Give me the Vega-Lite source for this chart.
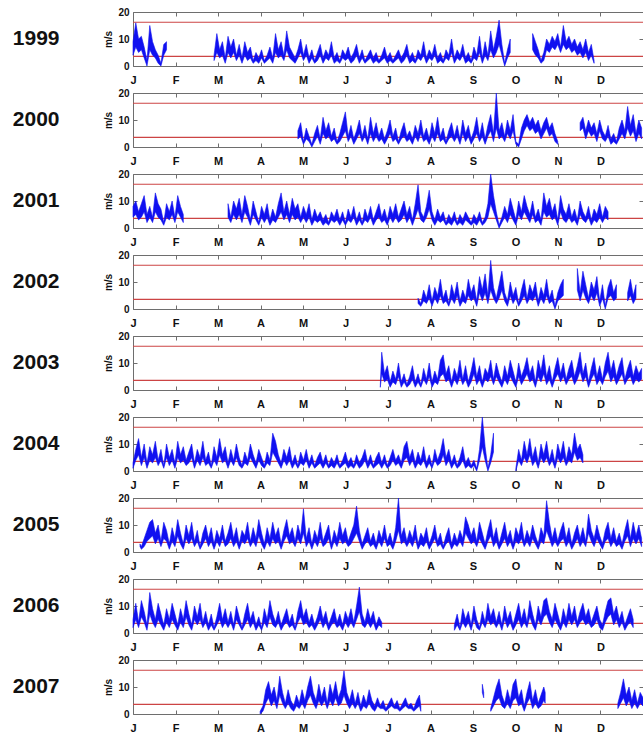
{
"$schema":"https://vega.github.io/schema/vega-lite/v6.json",
"padding":{"left":12,"top":6,"right":0,"bottom":0},
"background":"white",
"bounds":"flush",
"spacing":27,
"config":{
 "font":"Liberation Sans",
 "view":{"stroke":"#6e6e6e","strokeWidth":1},
 "axis":{"domain":false,"grid":false,"tickColor":"#6e6e6e","tickSize":-4,"labelFont":"Liberation Sans","labelFontWeight":"bold","labelColor":"#111111","titleFont":"Liberation Sans","titleFontWeight":"bold","titleColor":"#111111"},
 "title":{"orient":"left","angle":0,"align":"right","baseline":"middle","anchor":"middle","fontSize":21,"fontWeight":"bold","font":"Liberation Sans","color":"#111111","offset":21,"dy":-11}
},
"datasets":{
"a1999":[{"d":0,"l":4,"h":9,"s":1},{"d":2,"l":7,"h":16,"s":1},{"d":4,"l":5,"h":10,"s":1},{"d":6,"l":6,"h":11,"s":1},{"d":8,"l":3,"h":7,"s":1},{"d":10,"l":0,"h":2,"s":1},{"d":12,"l":6,"h":15,"s":1},{"d":14,"l":4,"h":9,"s":1},{"d":16,"l":3,"h":6,"s":1},{"d":18,"l":1,"h":4,"s":1},{"d":20,"l":0,"h":1,"s":1},{"d":22,"l":4,"h":8,"s":1},{"d":24,"l":6,"h":9,"s":1},
{"d":58,"l":2,"h":4,"s":2},{"d":60,"l":5,"h":12,"s":2},{"d":62,"l":3,"h":6,"s":2},{"d":64,"l":4,"h":9,"s":2},{"d":66,"l":1,"h":3,"s":2},{"d":68,"l":5,"h":11,"s":2},{"d":70,"l":3,"h":7,"s":2},{"d":72,"l":5,"h":10,"s":2},{"d":74,"l":2,"h":4,"s":2},{"d":76,"l":4,"h":8,"s":2},{"d":78,"l":1,"h":3,"s":2},{"d":80,"l":4,"h":9,"s":2},{"d":82,"l":2,"h":5,"s":2},{"d":84,"l":3,"h":7,"s":2},{"d":86,"l":1,"h":2,"s":2},{"d":88,"l":2,"h":5,"s":2},{"d":90,"l":1,"h":3,"s":2},{"d":92,"l":3,"h":6,"s":2},{"d":94,"l":1,"h":2,"s":2},{"d":96,"l":2,"h":4,"s":2},{"d":98,"l":3,"h":7,"s":2},{"d":100,"l":1,"h":3,"s":2},{"d":102,"l":5,"h":12,"s":2},{"d":104,"l":3,"h":6,"s":2},{"d":106,"l":4,"h":9,"s":2},{"d":108,"l":2,"h":4,"s":2},{"d":110,"l":6,"h":13,"s":2},{"d":112,"l":3,"h":7,"s":2},{"d":114,"l":2,"h":5,"s":2},{"d":116,"l":1,"h":3,"s":2},{"d":118,"l":3,"h":6,"s":2},{"d":120,"l":5,"h":10,"s":2},{"d":122,"l":2,"h":4,"s":2},{"d":124,"l":4,"h":8,"s":2},{"d":126,"l":1,"h":3,"s":2},{"d":128,"l":3,"h":6,"s":2},{"d":130,"l":1,"h":2,"s":2},{"d":132,"l":2,"h":5,"s":2},{"d":134,"l":4,"h":8,"s":2},{"d":136,"l":1,"h":3,"s":2},{"d":138,"l":3,"h":6,"s":2},{"d":140,"l":2,"h":4,"s":2},{"d":142,"l":4,"h":9,"s":2},{"d":144,"l":1,"h":3,"s":2},{"d":146,"l":2,"h":5,"s":2},{"d":148,"l":1,"h":2,"s":2},{"d":150,"l":3,"h":6,"s":2},{"d":152,"l":2,"h":4,"s":2},{"d":154,"l":3,"h":7,"s":2},{"d":156,"l":1,"h":3,"s":2},{"d":158,"l":2,"h":5,"s":2},{"d":160,"l":4,"h":8,"s":2},{"d":162,"l":1,"h":3,"s":2},{"d":164,"l":3,"h":6,"s":2},{"d":166,"l":1,"h":2,"s":2},{"d":168,"l":2,"h":4,"s":2},{"d":170,"l":3,"h":6,"s":2},{"d":172,"l":1,"h":3,"s":2},{"d":174,"l":2,"h":5,"s":2},{"d":176,"l":1,"h":2,"s":2},{"d":178,"l":2,"h":4,"s":2},{"d":180,"l":3,"h":7,"s":2},{"d":182,"l":1,"h":3,"s":2},{"d":184,"l":2,"h":5,"s":2},{"d":186,"l":1,"h":2,"s":2},{"d":188,"l":2,"h":4,"s":2},{"d":190,"l":3,"h":6,"s":2},{"d":192,"l":1,"h":3,"s":2},{"d":194,"l":2,"h":5,"s":2},{"d":196,"l":4,"h":8,"s":2},{"d":198,"l":1,"h":3,"s":2},{"d":200,"l":2,"h":5,"s":2},{"d":202,"l":1,"h":2,"s":2},{"d":204,"l":3,"h":6,"s":2},{"d":206,"l":2,"h":4,"s":2},{"d":208,"l":4,"h":9,"s":2},{"d":210,"l":1,"h":3,"s":2},{"d":212,"l":3,"h":6,"s":2},{"d":214,"l":2,"h":4,"s":2},{"d":216,"l":4,"h":8,"s":2},{"d":218,"l":1,"h":3,"s":2},{"d":220,"l":2,"h":5,"s":2},{"d":222,"l":1,"h":2,"s":2},{"d":224,"l":3,"h":6,"s":2},{"d":226,"l":2,"h":4,"s":2},{"d":228,"l":5,"h":10,"s":2},{"d":230,"l":1,"h":3,"s":2},{"d":232,"l":3,"h":6,"s":2},{"d":234,"l":2,"h":4,"s":2},{"d":236,"l":4,"h":8,"s":2},{"d":238,"l":1,"h":3,"s":2},{"d":240,"l":2,"h":5,"s":2},{"d":242,"l":1,"h":2,"s":2},{"d":244,"l":3,"h":7,"s":2},{"d":246,"l":2,"h":4,"s":2},{"d":248,"l":5,"h":11,"s":2},{"d":250,"l":1,"h":3,"s":2},{"d":252,"l":4,"h":9,"s":2},{"d":254,"l":2,"h":4,"s":2},{"d":256,"l":6,"h":13,"s":2},{"d":258,"l":3,"h":6,"s":2},{"d":260,"l":5,"h":11,"s":2},{"d":262,"l":8,"h":17,"s":2},{"d":264,"l":4,"h":8,"s":2},{"d":266,"l":0,"h":1,"s":2},{"d":268,"l":3,"h":6,"s":2},{"d":270,"l":5,"h":10,"s":2},
{"d":286,"l":6,"h":12,"s":3},{"d":288,"l":4,"h":9,"s":3},{"d":290,"l":3,"h":6,"s":3},{"d":292,"l":1,"h":2,"s":3},{"d":294,"l":2,"h":5,"s":3},{"d":296,"l":6,"h":10,"s":3},{"d":298,"l":5,"h":8,"s":3},{"d":300,"l":7,"h":11,"s":3},{"d":302,"l":6,"h":9,"s":3},{"d":304,"l":8,"h":12,"s":3},{"d":306,"l":5,"h":7,"s":3},{"d":308,"l":8,"h":15,"s":3},{"d":310,"l":6,"h":9,"s":3},{"d":312,"l":7,"h":11,"s":3},{"d":314,"l":5,"h":8,"s":3},{"d":316,"l":6,"h":10,"s":3},{"d":318,"l":4,"h":7,"s":3},{"d":320,"l":5,"h":9,"s":3},{"d":322,"l":3,"h":6,"s":3},{"d":324,"l":5,"h":10,"s":3},{"d":326,"l":2,"h":5,"s":3},{"d":328,"l":4,"h":8,"s":3},{"d":330,"l":1,"h":2,"s":3}],
"a2000":[{"d":118,"l":3,"h":6,"s":1},{"d":120,"l":4,"h":9,"s":1},{"d":122,"l":1,"h":2,"s":1},{"d":124,"l":3,"h":7,"s":1},{"d":126,"l":2,"h":4,"s":1},{"d":128,"l":0,"h":1,"s":1},{"d":130,"l":2,"h":5,"s":1},{"d":132,"l":4,"h":8,"s":1},{"d":134,"l":1,"h":3,"s":1},{"d":136,"l":5,"h":11,"s":1},{"d":138,"l":3,"h":6,"s":1},{"d":140,"l":4,"h":9,"s":1},{"d":142,"l":2,"h":4,"s":1},{"d":144,"l":3,"h":7,"s":1},{"d":146,"l":1,"h":2,"s":1},{"d":148,"l":2,"h":5,"s":1},{"d":150,"l":4,"h":9,"s":1},{"d":152,"l":6,"h":13,"s":1},{"d":154,"l":2,"h":4,"s":1},{"d":156,"l":4,"h":8,"s":1},{"d":158,"l":1,"h":3,"s":1},{"d":160,"l":3,"h":6,"s":1},{"d":162,"l":5,"h":10,"s":1},{"d":164,"l":2,"h":4,"s":1},{"d":166,"l":4,"h":8,"s":1},{"d":168,"l":1,"h":3,"s":1},{"d":170,"l":5,"h":11,"s":1},{"d":172,"l":2,"h":5,"s":1},{"d":174,"l":4,"h":9,"s":1},{"d":176,"l":2,"h":4,"s":1},{"d":178,"l":3,"h":7,"s":1},{"d":180,"l":1,"h":3,"s":1},{"d":182,"l":3,"h":6,"s":1},{"d":184,"l":5,"h":10,"s":1},{"d":186,"l":2,"h":4,"s":1},{"d":188,"l":3,"h":7,"s":1},{"d":190,"l":1,"h":2,"s":1},{"d":192,"l":3,"h":6,"s":1},{"d":194,"l":4,"h":9,"s":1},{"d":196,"l":2,"h":4,"s":1},{"d":198,"l":3,"h":6,"s":1},{"d":200,"l":1,"h":3,"s":1},{"d":202,"l":4,"h":8,"s":1},{"d":204,"l":2,"h":5,"s":1},{"d":206,"l":5,"h":10,"s":1},{"d":208,"l":2,"h":4,"s":1},{"d":210,"l":3,"h":7,"s":1},{"d":212,"l":1,"h":3,"s":1},{"d":214,"l":4,"h":9,"s":1},{"d":216,"l":2,"h":5,"s":1},{"d":218,"l":5,"h":11,"s":1},{"d":220,"l":2,"h":4,"s":1},{"d":222,"l":3,"h":7,"s":1},{"d":224,"l":1,"h":2,"s":1},{"d":226,"l":3,"h":6,"s":1},{"d":228,"l":4,"h":9,"s":1},{"d":230,"l":2,"h":4,"s":1},{"d":232,"l":4,"h":8,"s":1},{"d":234,"l":1,"h":3,"s":1},{"d":236,"l":5,"h":10,"s":1},{"d":238,"l":2,"h":5,"s":1},{"d":240,"l":4,"h":8,"s":1},{"d":242,"l":1,"h":3,"s":1},{"d":244,"l":3,"h":6,"s":1},{"d":246,"l":5,"h":11,"s":1},{"d":248,"l":2,"h":4,"s":1},{"d":250,"l":4,"h":9,"s":1},{"d":252,"l":1,"h":3,"s":1},{"d":254,"l":4,"h":8,"s":1},{"d":256,"l":6,"h":12,"s":1},{"d":258,"l":2,"h":5,"s":1},{"d":260,"l":7,"h":20,"s":1},{"d":262,"l":3,"h":6,"s":1},{"d":264,"l":4,"h":9,"s":1},{"d":266,"l":2,"h":4,"s":1},{"d":268,"l":5,"h":10,"s":1},{"d":270,"l":3,"h":6,"s":1},{"d":272,"l":6,"h":12,"s":1},{"d":274,"l":1,"h":2,"s":1},{"d":276,"l":0,"h":1,"s":1},{"d":278,"l":3,"h":7,"s":1},{"d":280,"l":6,"h":10,"s":1},{"d":282,"l":8,"h":12,"s":1},{"d":284,"l":6,"h":9,"s":1},{"d":286,"l":7,"h":11,"s":1},{"d":288,"l":5,"h":8,"s":1},{"d":290,"l":6,"h":10,"s":1},{"d":292,"l":3,"h":6,"s":1},{"d":294,"l":5,"h":9,"s":1},{"d":296,"l":7,"h":11,"s":1},{"d":298,"l":4,"h":7,"s":1},{"d":300,"l":5,"h":9,"s":1},{"d":302,"l":2,"h":5,"s":1},{"d":304,"l":1,"h":2,"s":1},
{"d":320,"l":6,"h":9,"s":2},{"d":322,"l":7,"h":11,"s":2},{"d":324,"l":3,"h":6,"s":2},{"d":326,"l":6,"h":10,"s":2},{"d":328,"l":4,"h":7,"s":2},{"d":330,"l":5,"h":9,"s":2},{"d":332,"l":2,"h":5,"s":2},{"d":334,"l":6,"h":10,"s":2},{"d":336,"l":3,"h":6,"s":2},{"d":338,"l":2,"h":4,"s":2},{"d":340,"l":4,"h":8,"s":2},{"d":342,"l":1,"h":3,"s":2},{"d":344,"l":2,"h":5,"s":2},{"d":346,"l":1,"h":2,"s":2},{"d":348,"l":3,"h":7,"s":2},{"d":350,"l":5,"h":10,"s":2},{"d":352,"l":3,"h":6,"s":2},{"d":354,"l":7,"h":15,"s":2},{"d":356,"l":4,"h":8,"s":2},{"d":358,"l":6,"h":12,"s":2},{"d":360,"l":2,"h":5,"s":2},{"d":362,"l":5,"h":10,"s":2},{"d":364,"l":3,"h":7,"s":2}],
"a2001":[{"d":0,"l":4,"h":8,"s":1},{"d":2,"l":5,"h":10,"s":1},{"d":4,"l":3,"h":6,"s":1},{"d":6,"l":4,"h":9,"s":1},{"d":8,"l":6,"h":12,"s":1},{"d":10,"l":2,"h":5,"s":1},{"d":12,"l":4,"h":8,"s":1},{"d":14,"l":2,"h":4,"s":1},{"d":16,"l":6,"h":13,"s":1},{"d":18,"l":4,"h":9,"s":1},{"d":20,"l":3,"h":7,"s":1},{"d":22,"l":1,"h":2,"s":1},{"d":24,"l":4,"h":9,"s":1},{"d":26,"l":3,"h":6,"s":1},{"d":28,"l":5,"h":10,"s":1},{"d":30,"l":2,"h":4,"s":1},{"d":32,"l":6,"h":12,"s":1},{"d":34,"l":4,"h":8,"s":1},{"d":36,"l":2,"h":5,"s":1},
{"d":68,"l":4,"h":9,"s":2},{"d":70,"l":2,"h":4,"s":2},{"d":72,"l":5,"h":10,"s":2},{"d":74,"l":3,"h":7,"s":2},{"d":76,"l":5,"h":11,"s":2},{"d":78,"l":2,"h":5,"s":2},{"d":80,"l":6,"h":12,"s":2},{"d":82,"l":4,"h":8,"s":2},{"d":84,"l":1,"h":3,"s":2},{"d":86,"l":5,"h":10,"s":2},{"d":88,"l":3,"h":6,"s":2},{"d":90,"l":1,"h":2,"s":2},{"d":92,"l":4,"h":8,"s":2},{"d":94,"l":2,"h":5,"s":2},{"d":96,"l":4,"h":9,"s":2},{"d":98,"l":1,"h":3,"s":2},{"d":100,"l":3,"h":7,"s":2},{"d":102,"l":2,"h":4,"s":2},{"d":104,"l":4,"h":9,"s":2},{"d":106,"l":6,"h":13,"s":2},{"d":108,"l":3,"h":6,"s":2},{"d":110,"l":5,"h":10,"s":2},{"d":112,"l":2,"h":5,"s":2},{"d":114,"l":5,"h":11,"s":2},{"d":116,"l":3,"h":7,"s":2},{"d":118,"l":4,"h":9,"s":2},{"d":120,"l":2,"h":4,"s":2},{"d":122,"l":4,"h":8,"s":2},{"d":124,"l":2,"h":5,"s":2},{"d":126,"l":4,"h":9,"s":2},{"d":128,"l":1,"h":3,"s":2},{"d":130,"l":3,"h":7,"s":2},{"d":132,"l":2,"h":4,"s":2},{"d":134,"l":3,"h":6,"s":2},{"d":136,"l":1,"h":3,"s":2},{"d":138,"l":2,"h":5,"s":2},{"d":140,"l":1,"h":2,"s":2},{"d":142,"l":3,"h":6,"s":2},{"d":144,"l":2,"h":4,"s":2},{"d":146,"l":3,"h":7,"s":2},{"d":148,"l":1,"h":3,"s":2},{"d":150,"l":3,"h":6,"s":2},{"d":152,"l":1,"h":2,"s":2},{"d":154,"l":3,"h":7,"s":2},{"d":156,"l":2,"h":4,"s":2},{"d":158,"l":4,"h":8,"s":2},{"d":160,"l":1,"h":3,"s":2},{"d":162,"l":3,"h":6,"s":2},{"d":164,"l":1,"h":2,"s":2},{"d":166,"l":3,"h":7,"s":2},{"d":168,"l":2,"h":4,"s":2},{"d":170,"l":4,"h":8,"s":2},{"d":172,"l":1,"h":3,"s":2},{"d":174,"l":3,"h":6,"s":2},{"d":176,"l":4,"h":9,"s":2},{"d":178,"l":2,"h":4,"s":2},{"d":180,"l":3,"h":7,"s":2},{"d":182,"l":1,"h":3,"s":2},{"d":184,"l":4,"h":8,"s":2},{"d":186,"l":2,"h":5,"s":2},{"d":188,"l":4,"h":9,"s":2},{"d":190,"l":2,"h":4,"s":2},{"d":192,"l":3,"h":7,"s":2},{"d":194,"l":5,"h":10,"s":2},{"d":196,"l":2,"h":5,"s":2},{"d":198,"l":4,"h":8,"s":2},{"d":200,"l":1,"h":3,"s":2},{"d":202,"l":4,"h":9,"s":2},{"d":204,"l":7,"h":16,"s":2},{"d":206,"l":3,"h":6,"s":2},{"d":208,"l":2,"h":4,"s":2},{"d":210,"l":4,"h":8,"s":2},{"d":212,"l":7,"h":14,"s":2},{"d":214,"l":3,"h":6,"s":2},{"d":216,"l":1,"h":3,"s":2},{"d":218,"l":3,"h":7,"s":2},{"d":220,"l":2,"h":4,"s":2},{"d":222,"l":3,"h":6,"s":2},{"d":224,"l":1,"h":2,"s":2},{"d":226,"l":2,"h":5,"s":2},{"d":228,"l":1,"h":3,"s":2},{"d":230,"l":3,"h":6,"s":2},{"d":232,"l":1,"h":2,"s":2},{"d":234,"l":2,"h":5,"s":2},{"d":236,"l":1,"h":3,"s":2},{"d":238,"l":3,"h":6,"s":2},{"d":240,"l":2,"h":4,"s":2},{"d":242,"l":1,"h":2,"s":2},{"d":244,"l":2,"h":5,"s":2},{"d":246,"l":1,"h":3,"s":2},{"d":248,"l":3,"h":6,"s":2},{"d":250,"l":1,"h":2,"s":2},{"d":252,"l":2,"h":4,"s":2},{"d":254,"l":4,"h":9,"s":2},{"d":256,"l":9,"h":20,"s":2},{"d":258,"l":6,"h":12,"s":2},{"d":260,"l":3,"h":6,"s":2},{"d":262,"l":0,"h":1,"s":2},{"d":264,"l":2,"h":4,"s":2},{"d":266,"l":4,"h":8,"s":2},{"d":268,"l":2,"h":5,"s":2},{"d":270,"l":5,"h":11,"s":2},{"d":272,"l":3,"h":7,"s":2},{"d":274,"l":1,"h":3,"s":2},{"d":276,"l":5,"h":10,"s":2},{"d":278,"l":3,"h":6,"s":2},{"d":280,"l":6,"h":12,"s":2},{"d":282,"l":4,"h":8,"s":2},{"d":284,"l":2,"h":5,"s":2},{"d":286,"l":5,"h":10,"s":2},{"d":288,"l":2,"h":4,"s":2},{"d":290,"l":3,"h":7,"s":2},{"d":292,"l":1,"h":3,"s":2},{"d":294,"l":6,"h":13,"s":2},{"d":296,"l":4,"h":8,"s":2},{"d":298,"l":5,"h":11,"s":2},{"d":300,"l":3,"h":6,"s":2},{"d":302,"l":4,"h":9,"s":2},{"d":304,"l":1,"h":3,"s":2},{"d":306,"l":6,"h":12,"s":2},{"d":308,"l":3,"h":7,"s":2},{"d":310,"l":2,"h":5,"s":2},{"d":312,"l":4,"h":9,"s":2},{"d":314,"l":2,"h":4,"s":2},{"d":316,"l":3,"h":7,"s":2},{"d":318,"l":1,"h":3,"s":2},{"d":320,"l":5,"h":10,"s":2},{"d":322,"l":3,"h":6,"s":2},{"d":324,"l":2,"h":4,"s":2},{"d":326,"l":4,"h":8,"s":2},{"d":328,"l":1,"h":3,"s":2},{"d":330,"l":3,"h":7,"s":2},{"d":332,"l":2,"h":5,"s":2},{"d":334,"l":4,"h":9,"s":2},{"d":336,"l":2,"h":4,"s":2},{"d":338,"l":4,"h":8,"s":2},{"d":340,"l":3,"h":6,"s":2}],
"a2002":[{"d":204,"l":2,"h":4,"s":1},{"d":206,"l":1,"h":2,"s":1},{"d":208,"l":3,"h":7,"s":1},{"d":210,"l":2,"h":4,"s":1},{"d":212,"l":4,"h":9,"s":1},{"d":214,"l":1,"h":3,"s":1},{"d":216,"l":4,"h":8,"s":1},{"d":218,"l":2,"h":5,"s":1},{"d":220,"l":5,"h":11,"s":1},{"d":222,"l":2,"h":4,"s":1},{"d":224,"l":3,"h":7,"s":1},{"d":226,"l":1,"h":2,"s":1},{"d":228,"l":4,"h":9,"s":1},{"d":230,"l":2,"h":5,"s":1},{"d":232,"l":5,"h":10,"s":1},{"d":234,"l":1,"h":3,"s":1},{"d":236,"l":3,"h":7,"s":1},{"d":238,"l":2,"h":4,"s":1},{"d":240,"l":5,"h":11,"s":1},{"d":242,"l":3,"h":6,"s":1},{"d":244,"l":4,"h":9,"s":1},{"d":246,"l":1,"h":3,"s":1},{"d":248,"l":6,"h":12,"s":1},{"d":250,"l":3,"h":7,"s":1},{"d":252,"l":6,"h":13,"s":1},{"d":254,"l":2,"h":5,"s":1},{"d":256,"l":7,"h":18,"s":1},{"d":258,"l":4,"h":8,"s":1},{"d":260,"l":2,"h":4,"s":1},{"d":262,"l":4,"h":9,"s":1},{"d":264,"l":7,"h":14,"s":1},{"d":266,"l":3,"h":6,"s":1},{"d":268,"l":1,"h":3,"s":1},{"d":270,"l":5,"h":10,"s":1},{"d":272,"l":2,"h":5,"s":1},{"d":274,"l":4,"h":8,"s":1},{"d":276,"l":1,"h":2,"s":1},{"d":278,"l":3,"h":7,"s":1},{"d":280,"l":5,"h":11,"s":1},{"d":282,"l":2,"h":4,"s":1},{"d":284,"l":4,"h":9,"s":1},{"d":286,"l":3,"h":6,"s":1},{"d":288,"l":5,"h":10,"s":1},{"d":290,"l":1,"h":3,"s":1},{"d":292,"l":4,"h":8,"s":1},{"d":294,"l":2,"h":5,"s":1},{"d":296,"l":5,"h":11,"s":1},{"d":298,"l":2,"h":4,"s":1},{"d":300,"l":3,"h":7,"s":1},{"d":302,"l":0,"h":1,"s":1},{"d":304,"l":3,"h":6,"s":1},{"d":306,"l":4,"h":9,"s":1},{"d":308,"l":5,"h":11,"s":1},
{"d":318,"l":7,"h":15,"s":2},{"d":320,"l":3,"h":6,"s":2},{"d":322,"l":7,"h":14,"s":2},{"d":324,"l":4,"h":9,"s":2},{"d":326,"l":2,"h":4,"s":2},{"d":328,"l":5,"h":10,"s":2},{"d":330,"l":3,"h":7,"s":2},{"d":332,"l":6,"h":12,"s":2},{"d":334,"l":1,"h":3,"s":2},{"d":336,"l":4,"h":9,"s":2},{"d":338,"l":0,"h":1,"s":2},{"d":340,"l":4,"h":8,"s":2},{"d":342,"l":5,"h":11,"s":2},{"d":344,"l":3,"h":6,"s":2},{"d":346,"l":4,"h":9,"s":2},
{"d":354,"l":3,"h":6,"s":3},{"d":356,"l":5,"h":11,"s":3},{"d":358,"l":2,"h":5,"s":3},{"d":360,"l":4,"h":9,"s":3}],
"a2003":[{"d":177,"l":1,"h":2,"s":1},{"d":178,"l":6,"h":14,"s":1},{"d":180,"l":3,"h":6,"s":1},{"d":182,"l":4,"h":9,"s":1},{"d":184,"l":1,"h":3,"s":1},{"d":186,"l":3,"h":7,"s":1},{"d":188,"l":2,"h":4,"s":1},{"d":190,"l":5,"h":10,"s":1},{"d":192,"l":1,"h":3,"s":1},{"d":194,"l":3,"h":6,"s":1},{"d":196,"l":1,"h":2,"s":1},{"d":198,"l":2,"h":5,"s":1},{"d":200,"l":4,"h":9,"s":1},{"d":202,"l":1,"h":3,"s":1},{"d":204,"l":3,"h":6,"s":1},{"d":206,"l":1,"h":2,"s":1},{"d":208,"l":4,"h":8,"s":1},{"d":210,"l":2,"h":4,"s":1},{"d":212,"l":5,"h":10,"s":1},{"d":214,"l":1,"h":3,"s":1},{"d":216,"l":3,"h":7,"s":1},{"d":218,"l":2,"h":4,"s":1},{"d":220,"l":5,"h":11,"s":1},{"d":222,"l":6,"h":13,"s":1},{"d":224,"l":3,"h":6,"s":1},{"d":226,"l":4,"h":9,"s":1},{"d":228,"l":1,"h":3,"s":1},{"d":230,"l":4,"h":8,"s":1},{"d":232,"l":2,"h":5,"s":1},{"d":234,"l":5,"h":11,"s":1},{"d":236,"l":2,"h":4,"s":1},{"d":238,"l":4,"h":9,"s":1},{"d":240,"l":1,"h":3,"s":1},{"d":242,"l":3,"h":7,"s":1},{"d":244,"l":6,"h":12,"s":1},{"d":246,"l":2,"h":5,"s":1},{"d":248,"l":4,"h":9,"s":1},{"d":250,"l":1,"h":3,"s":1},{"d":252,"l":4,"h":8,"s":1},{"d":254,"l":3,"h":6,"s":1},{"d":256,"l":5,"h":11,"s":1},{"d":258,"l":2,"h":4,"s":1},{"d":260,"l":5,"h":10,"s":1},{"d":262,"l":3,"h":6,"s":1},{"d":264,"l":1,"h":3,"s":1},{"d":266,"l":4,"h":9,"s":1},{"d":268,"l":2,"h":5,"s":1},{"d":270,"l":5,"h":11,"s":1},{"d":272,"l":3,"h":7,"s":1},{"d":274,"l":1,"h":3,"s":1},{"d":276,"l":5,"h":10,"s":1},{"d":278,"l":2,"h":5,"s":1},{"d":280,"l":4,"h":8,"s":1},{"d":282,"l":6,"h":12,"s":1},{"d":284,"l":3,"h":6,"s":1},{"d":286,"l":4,"h":9,"s":1},{"d":288,"l":1,"h":3,"s":1},{"d":290,"l":5,"h":11,"s":1},{"d":292,"l":3,"h":7,"s":1},{"d":294,"l":6,"h":13,"s":1},{"d":296,"l":2,"h":5,"s":1},{"d":298,"l":4,"h":9,"s":1},{"d":300,"l":1,"h":3,"s":1},{"d":302,"l":4,"h":8,"s":1},{"d":304,"l":6,"h":12,"s":1},{"d":306,"l":3,"h":6,"s":1},{"d":308,"l":5,"h":10,"s":1},{"d":310,"l":2,"h":4,"s":1},{"d":312,"l":4,"h":8,"s":1},{"d":314,"l":5,"h":11,"s":1},{"d":316,"l":2,"h":5,"s":1},{"d":318,"l":4,"h":9,"s":1},{"d":320,"l":7,"h":14,"s":1},{"d":322,"l":3,"h":6,"s":1},{"d":324,"l":5,"h":10,"s":1},{"d":326,"l":1,"h":3,"s":1},{"d":328,"l":4,"h":8,"s":1},{"d":330,"l":6,"h":12,"s":1},{"d":332,"l":2,"h":5,"s":1},{"d":334,"l":4,"h":9,"s":1},{"d":336,"l":2,"h":4,"s":1},{"d":338,"l":5,"h":10,"s":1},{"d":340,"l":7,"h":14,"s":1},{"d":342,"l":3,"h":7,"s":1},{"d":344,"l":5,"h":11,"s":1},{"d":346,"l":2,"h":5,"s":1},{"d":348,"l":4,"h":9,"s":1},{"d":350,"l":6,"h":12,"s":1},{"d":352,"l":2,"h":4,"s":1},{"d":354,"l":4,"h":8,"s":1},{"d":356,"l":5,"h":11,"s":1},{"d":358,"l":2,"h":5,"s":1},{"d":360,"l":4,"h":9,"s":1},{"d":362,"l":3,"h":6,"s":1},{"d":364,"l":4,"h":8,"s":1}],
"a2004":[{"d":0,"l":1,"h":3,"s":1},{"d":2,"l":4,"h":8,"s":1},{"d":4,"l":6,"h":12,"s":1},{"d":6,"l":2,"h":5,"s":1},{"d":8,"l":5,"h":10,"s":1},{"d":10,"l":1,"h":3,"s":1},{"d":12,"l":4,"h":9,"s":1},{"d":14,"l":3,"h":6,"s":1},{"d":16,"l":5,"h":11,"s":1},{"d":18,"l":2,"h":4,"s":1},{"d":20,"l":4,"h":8,"s":1},{"d":22,"l":1,"h":2,"s":1},{"d":24,"l":5,"h":10,"s":1},{"d":26,"l":2,"h":5,"s":1},{"d":28,"l":4,"h":8,"s":1},{"d":30,"l":1,"h":3,"s":1},{"d":32,"l":5,"h":11,"s":1},{"d":34,"l":3,"h":6,"s":1},{"d":36,"l":4,"h":9,"s":1},{"d":38,"l":2,"h":4,"s":1},{"d":40,"l":3,"h":7,"s":1},{"d":42,"l":5,"h":10,"s":1},{"d":44,"l":1,"h":3,"s":1},{"d":46,"l":4,"h":8,"s":1},{"d":48,"l":2,"h":5,"s":1},{"d":50,"l":5,"h":11,"s":1},{"d":52,"l":2,"h":4,"s":1},{"d":54,"l":3,"h":7,"s":1},{"d":56,"l":1,"h":2,"s":1},{"d":58,"l":4,"h":9,"s":1},{"d":60,"l":2,"h":5,"s":1},{"d":62,"l":6,"h":12,"s":1},{"d":64,"l":3,"h":6,"s":1},{"d":66,"l":4,"h":9,"s":1},{"d":68,"l":1,"h":3,"s":1},{"d":70,"l":4,"h":8,"s":1},{"d":72,"l":2,"h":4,"s":1},{"d":74,"l":5,"h":10,"s":1},{"d":76,"l":2,"h":5,"s":1},{"d":78,"l":1,"h":2,"s":1},{"d":80,"l":3,"h":7,"s":1},{"d":82,"l":2,"h":4,"s":1},{"d":84,"l":5,"h":10,"s":1},{"d":86,"l":3,"h":6,"s":1},{"d":88,"l":1,"h":3,"s":1},{"d":90,"l":4,"h":8,"s":1},{"d":92,"l":2,"h":5,"s":1},{"d":94,"l":1,"h":2,"s":1},{"d":96,"l":3,"h":7,"s":1},{"d":98,"l":2,"h":4,"s":1},{"d":100,"l":7,"h":14,"s":1},{"d":102,"l":5,"h":11,"s":1},{"d":104,"l":3,"h":6,"s":1},{"d":106,"l":1,"h":3,"s":1},{"d":108,"l":4,"h":8,"s":1},{"d":110,"l":2,"h":5,"s":1},{"d":112,"l":4,"h":9,"s":1},{"d":114,"l":1,"h":3,"s":1},{"d":116,"l":3,"h":6,"s":1},{"d":118,"l":1,"h":2,"s":1},{"d":120,"l":3,"h":7,"s":1},{"d":122,"l":2,"h":4,"s":1},{"d":124,"l":4,"h":8,"s":1},{"d":126,"l":1,"h":3,"s":1},{"d":128,"l":3,"h":6,"s":1},{"d":130,"l":1,"h":2,"s":1},{"d":132,"l":2,"h":5,"s":1},{"d":134,"l":3,"h":7,"s":1},{"d":136,"l":1,"h":3,"s":1},{"d":138,"l":3,"h":6,"s":1},{"d":140,"l":1,"h":2,"s":1},{"d":142,"l":2,"h":5,"s":1},{"d":144,"l":1,"h":3,"s":1},{"d":146,"l":3,"h":6,"s":1},{"d":148,"l":1,"h":2,"s":1},{"d":150,"l":2,"h":4,"s":1},{"d":152,"l":3,"h":7,"s":1},{"d":154,"l":1,"h":3,"s":1},{"d":156,"l":2,"h":5,"s":1},{"d":158,"l":1,"h":2,"s":1},{"d":160,"l":3,"h":6,"s":1},{"d":162,"l":1,"h":3,"s":1},{"d":164,"l":2,"h":5,"s":1},{"d":166,"l":4,"h":8,"s":1},{"d":168,"l":1,"h":3,"s":1},{"d":170,"l":3,"h":6,"s":1},{"d":172,"l":1,"h":2,"s":1},{"d":174,"l":2,"h":5,"s":1},{"d":176,"l":3,"h":7,"s":1},{"d":178,"l":1,"h":3,"s":1},{"d":180,"l":3,"h":6,"s":1},{"d":182,"l":1,"h":2,"s":1},{"d":184,"l":2,"h":5,"s":1},{"d":186,"l":4,"h":8,"s":1},{"d":188,"l":2,"h":4,"s":1},{"d":190,"l":3,"h":6,"s":1},{"d":192,"l":1,"h":3,"s":1},{"d":194,"l":4,"h":9,"s":1},{"d":196,"l":5,"h":11,"s":1},{"d":198,"l":2,"h":5,"s":1},{"d":200,"l":4,"h":8,"s":1},{"d":202,"l":1,"h":3,"s":1},{"d":204,"l":3,"h":7,"s":1},{"d":206,"l":2,"h":4,"s":1},{"d":208,"l":4,"h":9,"s":1},{"d":210,"l":1,"h":3,"s":1},{"d":212,"l":3,"h":6,"s":1},{"d":214,"l":1,"h":2,"s":1},{"d":216,"l":4,"h":8,"s":1},{"d":218,"l":2,"h":4,"s":1},{"d":220,"l":3,"h":7,"s":1},{"d":222,"l":6,"h":12,"s":1},{"d":224,"l":2,"h":5,"s":1},{"d":226,"l":4,"h":8,"s":1},{"d":228,"l":1,"h":3,"s":1},{"d":230,"l":3,"h":6,"s":1},{"d":232,"l":1,"h":2,"s":1},{"d":234,"l":2,"h":5,"s":1},{"d":236,"l":4,"h":9,"s":1},{"d":238,"l":1,"h":3,"s":1},{"d":240,"l":2,"h":5,"s":1},{"d":242,"l":1,"h":2,"s":1},{"d":244,"l":2,"h":4,"s":1},{"d":246,"l":0,"h":1,"s":1},{"d":248,"l":4,"h":8,"s":1},{"d":250,"l":9,"h":20,"s":1},{"d":252,"l":4,"h":9,"s":1},{"d":254,"l":0,"h":1,"s":1},{"d":256,"l":3,"h":6,"s":1},{"d":258,"l":7,"h":14,"s":1},
{"d":274,"l":0,"h":1,"s":2},{"d":276,"l":4,"h":8,"s":2},{"d":278,"l":2,"h":4,"s":2},{"d":280,"l":5,"h":11,"s":2},{"d":282,"l":3,"h":6,"s":2},{"d":284,"l":6,"h":12,"s":2},{"d":286,"l":2,"h":5,"s":2},{"d":288,"l":4,"h":9,"s":2},{"d":290,"l":1,"h":3,"s":2},{"d":292,"l":5,"h":10,"s":2},{"d":294,"l":3,"h":6,"s":2},{"d":296,"l":5,"h":11,"s":2},{"d":298,"l":2,"h":4,"s":2},{"d":300,"l":4,"h":8,"s":2},{"d":302,"l":1,"h":3,"s":2},{"d":304,"l":5,"h":10,"s":2},{"d":306,"l":3,"h":6,"s":2},{"d":308,"l":5,"h":11,"s":2},{"d":310,"l":2,"h":4,"s":2},{"d":312,"l":4,"h":9,"s":2},{"d":314,"l":3,"h":6,"s":2},{"d":316,"l":7,"h":14,"s":2},{"d":318,"l":4,"h":8,"s":2},{"d":320,"l":5,"h":10,"s":2},{"d":322,"l":3,"h":6,"s":2}],
"a2005":[{"d":5,"l":2,"h":3,"s":1},{"d":6,"l":1,"h":2,"s":1},{"d":8,"l":2,"h":5,"s":1},{"d":10,"l":4,"h":8,"s":1},{"d":12,"l":5,"h":11,"s":1},{"d":14,"l":6,"h":12,"s":1},{"d":16,"l":3,"h":7,"s":1},{"d":18,"l":5,"h":10,"s":1},{"d":20,"l":2,"h":4,"s":1},{"d":22,"l":5,"h":11,"s":1},{"d":24,"l":4,"h":8,"s":1},{"d":26,"l":1,"h":3,"s":1},{"d":28,"l":4,"h":9,"s":1},{"d":30,"l":2,"h":5,"s":1},{"d":32,"l":6,"h":12,"s":1},{"d":34,"l":3,"h":7,"s":1},{"d":36,"l":1,"h":3,"s":1},{"d":38,"l":5,"h":10,"s":1},{"d":40,"l":3,"h":6,"s":1},{"d":42,"l":5,"h":11,"s":1},{"d":44,"l":2,"h":4,"s":1},{"d":46,"l":4,"h":8,"s":1},{"d":48,"l":1,"h":2,"s":1},{"d":50,"l":3,"h":7,"s":1},{"d":52,"l":5,"h":10,"s":1},{"d":54,"l":2,"h":5,"s":1},{"d":56,"l":4,"h":9,"s":1},{"d":58,"l":1,"h":3,"s":1},{"d":60,"l":4,"h":8,"s":1},{"d":62,"l":2,"h":5,"s":1},{"d":64,"l":5,"h":10,"s":1},{"d":66,"l":2,"h":4,"s":1},{"d":68,"l":3,"h":7,"s":1},{"d":70,"l":5,"h":11,"s":1},{"d":72,"l":2,"h":5,"s":1},{"d":74,"l":4,"h":9,"s":1},{"d":76,"l":1,"h":3,"s":1},{"d":78,"l":4,"h":8,"s":1},{"d":80,"l":3,"h":6,"s":1},{"d":82,"l":5,"h":11,"s":1},{"d":84,"l":2,"h":4,"s":1},{"d":86,"l":4,"h":9,"s":1},{"d":88,"l":2,"h":5,"s":1},{"d":90,"l":6,"h":12,"s":1},{"d":92,"l":3,"h":7,"s":1},{"d":94,"l":1,"h":3,"s":1},{"d":96,"l":4,"h":9,"s":1},{"d":98,"l":2,"h":5,"s":1},{"d":100,"l":5,"h":11,"s":1},{"d":102,"l":3,"h":6,"s":1},{"d":104,"l":4,"h":9,"s":1},{"d":106,"l":1,"h":3,"s":1},{"d":108,"l":4,"h":8,"s":1},{"d":110,"l":6,"h":12,"s":1},{"d":112,"l":3,"h":6,"s":1},{"d":114,"l":4,"h":9,"s":1},{"d":116,"l":2,"h":4,"s":1},{"d":118,"l":5,"h":10,"s":1},{"d":120,"l":3,"h":6,"s":1},{"d":122,"l":7,"h":16,"s":1},{"d":124,"l":2,"h":5,"s":1},{"d":126,"l":4,"h":9,"s":1},{"d":128,"l":1,"h":3,"s":1},{"d":130,"l":4,"h":8,"s":1},{"d":132,"l":2,"h":5,"s":1},{"d":134,"l":5,"h":11,"s":1},{"d":136,"l":2,"h":4,"s":1},{"d":138,"l":3,"h":7,"s":1},{"d":140,"l":5,"h":10,"s":1},{"d":142,"l":1,"h":3,"s":1},{"d":144,"l":4,"h":8,"s":1},{"d":146,"l":2,"h":5,"s":1},{"d":148,"l":5,"h":11,"s":1},{"d":150,"l":3,"h":6,"s":1},{"d":152,"l":4,"h":9,"s":1},{"d":154,"l":2,"h":4,"s":1},{"d":156,"l":3,"h":7,"s":1},{"d":158,"l":5,"h":10,"s":1},{"d":160,"l":7,"h":17,"s":1},{"d":162,"l":4,"h":8,"s":1},{"d":164,"l":1,"h":3,"s":1},{"d":166,"l":3,"h":6,"s":1},{"d":168,"l":4,"h":9,"s":1},{"d":170,"l":2,"h":4,"s":1},{"d":172,"l":3,"h":7,"s":1},{"d":174,"l":1,"h":3,"s":1},{"d":176,"l":4,"h":8,"s":1},{"d":178,"l":2,"h":5,"s":1},{"d":180,"l":5,"h":10,"s":1},{"d":182,"l":2,"h":4,"s":1},{"d":184,"l":3,"h":7,"s":1},{"d":186,"l":1,"h":3,"s":1},{"d":188,"l":4,"h":9,"s":1},{"d":190,"l":8,"h":20,"s":1},{"d":192,"l":3,"h":6,"s":1},{"d":194,"l":4,"h":9,"s":1},{"d":196,"l":2,"h":4,"s":1},{"d":198,"l":4,"h":8,"s":1},{"d":200,"l":2,"h":5,"s":1},{"d":202,"l":5,"h":10,"s":1},{"d":204,"l":1,"h":3,"s":1},{"d":206,"l":3,"h":7,"s":1},{"d":208,"l":2,"h":5,"s":1},{"d":210,"l":4,"h":9,"s":1},{"d":212,"l":1,"h":3,"s":1},{"d":214,"l":3,"h":6,"s":1},{"d":216,"l":5,"h":10,"s":1},{"d":218,"l":2,"h":4,"s":1},{"d":220,"l":3,"h":7,"s":1},{"d":222,"l":1,"h":2,"s":1},{"d":224,"l":3,"h":6,"s":1},{"d":226,"l":4,"h":9,"s":1},{"d":228,"l":1,"h":3,"s":1},{"d":230,"l":3,"h":7,"s":1},{"d":232,"l":2,"h":4,"s":1},{"d":234,"l":4,"h":8,"s":1},{"d":236,"l":2,"h":5,"s":1},{"d":238,"l":7,"h":13,"s":1},{"d":240,"l":5,"h":10,"s":1},{"d":242,"l":3,"h":6,"s":1},{"d":244,"l":4,"h":9,"s":1},{"d":246,"l":2,"h":4,"s":1},{"d":248,"l":5,"h":11,"s":1},{"d":250,"l":3,"h":7,"s":1},{"d":252,"l":1,"h":3,"s":1},{"d":254,"l":4,"h":8,"s":1},{"d":256,"l":6,"h":12,"s":1},{"d":258,"l":2,"h":5,"s":1},{"d":260,"l":4,"h":9,"s":1},{"d":262,"l":1,"h":3,"s":1},{"d":264,"l":3,"h":7,"s":1},{"d":266,"l":5,"h":11,"s":1},{"d":268,"l":2,"h":5,"s":1},{"d":270,"l":4,"h":8,"s":1},{"d":272,"l":1,"h":3,"s":1},{"d":274,"l":4,"h":9,"s":1},{"d":276,"l":3,"h":6,"s":1},{"d":278,"l":5,"h":11,"s":1},{"d":280,"l":2,"h":4,"s":1},{"d":282,"l":4,"h":8,"s":1},{"d":284,"l":2,"h":5,"s":1},{"d":286,"l":5,"h":10,"s":1},{"d":288,"l":3,"h":6,"s":1},{"d":290,"l":1,"h":3,"s":1},{"d":292,"l":4,"h":9,"s":1},{"d":294,"l":3,"h":6,"s":1},{"d":296,"l":8,"h":19,"s":1},{"d":298,"l":5,"h":11,"s":1},{"d":300,"l":2,"h":5,"s":1},{"d":302,"l":4,"h":9,"s":1},{"d":304,"l":2,"h":4,"s":1},{"d":306,"l":4,"h":8,"s":1},{"d":308,"l":5,"h":11,"s":1},{"d":310,"l":2,"h":5,"s":1},{"d":312,"l":4,"h":9,"s":1},{"d":314,"l":1,"h":3,"s":1},{"d":316,"l":3,"h":7,"s":1},{"d":318,"l":5,"h":10,"s":1},{"d":320,"l":2,"h":5,"s":1},{"d":322,"l":4,"h":9,"s":1},{"d":324,"l":2,"h":4,"s":1},{"d":326,"l":7,"h":14,"s":1},{"d":328,"l":4,"h":8,"s":1},{"d":330,"l":2,"h":5,"s":1},{"d":332,"l":5,"h":10,"s":1},{"d":334,"l":3,"h":6,"s":1},{"d":336,"l":1,"h":3,"s":1},{"d":338,"l":4,"h":8,"s":1},{"d":340,"l":5,"h":11,"s":1},{"d":342,"l":2,"h":5,"s":1},{"d":344,"l":4,"h":9,"s":1},{"d":346,"l":2,"h":4,"s":1},{"d":348,"l":3,"h":7,"s":1},{"d":350,"l":1,"h":3,"s":1},{"d":352,"l":4,"h":8,"s":1},{"d":354,"l":6,"h":12,"s":1},{"d":356,"l":2,"h":5,"s":1},{"d":358,"l":5,"h":11,"s":1},{"d":360,"l":3,"h":6,"s":1},{"d":362,"l":5,"h":10,"s":1},{"d":364,"l":2,"h":5,"s":1}],
"a2006":[{"d":0,"l":2,"h":5,"s":1},{"d":2,"l":5,"h":11,"s":1},{"d":4,"l":2,"h":4,"s":1},{"d":6,"l":6,"h":12,"s":1},{"d":8,"l":4,"h":8,"s":1},{"d":10,"l":1,"h":3,"s":1},{"d":12,"l":7,"h":15,"s":1},{"d":14,"l":4,"h":9,"s":1},{"d":16,"l":2,"h":5,"s":1},{"d":18,"l":5,"h":11,"s":1},{"d":20,"l":3,"h":7,"s":1},{"d":22,"l":1,"h":3,"s":1},{"d":24,"l":4,"h":9,"s":1},{"d":26,"l":2,"h":5,"s":1},{"d":28,"l":5,"h":11,"s":1},{"d":30,"l":3,"h":7,"s":1},{"d":32,"l":1,"h":3,"s":1},{"d":34,"l":4,"h":9,"s":1},{"d":36,"l":2,"h":5,"s":1},{"d":38,"l":6,"h":12,"s":1},{"d":40,"l":3,"h":7,"s":1},{"d":42,"l":1,"h":3,"s":1},{"d":44,"l":5,"h":10,"s":1},{"d":46,"l":3,"h":6,"s":1},{"d":48,"l":5,"h":11,"s":1},{"d":50,"l":2,"h":4,"s":1},{"d":52,"l":4,"h":8,"s":1},{"d":54,"l":1,"h":3,"s":1},{"d":56,"l":3,"h":7,"s":1},{"d":58,"l":1,"h":2,"s":1},{"d":60,"l":3,"h":6,"s":1},{"d":62,"l":5,"h":11,"s":1},{"d":64,"l":2,"h":5,"s":1},{"d":66,"l":4,"h":9,"s":1},{"d":68,"l":2,"h":4,"s":1},{"d":70,"l":4,"h":8,"s":1},{"d":72,"l":1,"h":3,"s":1},{"d":74,"l":5,"h":10,"s":1},{"d":76,"l":3,"h":6,"s":1},{"d":78,"l":1,"h":2,"s":1},{"d":80,"l":3,"h":7,"s":1},{"d":82,"l":5,"h":11,"s":1},{"d":84,"l":2,"h":5,"s":1},{"d":86,"l":4,"h":8,"s":1},{"d":88,"l":1,"h":3,"s":1},{"d":90,"l":3,"h":6,"s":1},{"d":92,"l":1,"h":2,"s":1},{"d":94,"l":4,"h":9,"s":1},{"d":96,"l":2,"h":5,"s":1},{"d":98,"l":6,"h":12,"s":1},{"d":100,"l":3,"h":7,"s":1},{"d":102,"l":2,"h":4,"s":1},{"d":104,"l":4,"h":8,"s":1},{"d":106,"l":1,"h":3,"s":1},{"d":108,"l":3,"h":6,"s":1},{"d":110,"l":4,"h":9,"s":1},{"d":112,"l":2,"h":4,"s":1},{"d":114,"l":3,"h":7,"s":1},{"d":116,"l":1,"h":2,"s":1},{"d":118,"l":4,"h":8,"s":1},{"d":120,"l":6,"h":12,"s":1},{"d":122,"l":3,"h":6,"s":1},{"d":124,"l":4,"h":9,"s":1},{"d":126,"l":2,"h":4,"s":1},{"d":128,"l":3,"h":7,"s":1},{"d":130,"l":1,"h":3,"s":1},{"d":132,"l":3,"h":6,"s":1},{"d":134,"l":5,"h":10,"s":1},{"d":136,"l":2,"h":5,"s":1},{"d":138,"l":4,"h":8,"s":1},{"d":140,"l":1,"h":3,"s":1},{"d":142,"l":3,"h":6,"s":1},{"d":144,"l":4,"h":9,"s":1},{"d":146,"l":2,"h":4,"s":1},{"d":148,"l":3,"h":7,"s":1},{"d":150,"l":1,"h":3,"s":1},{"d":152,"l":4,"h":8,"s":1},{"d":154,"l":2,"h":5,"s":1},{"d":156,"l":4,"h":9,"s":1},{"d":158,"l":2,"h":4,"s":1},{"d":160,"l":5,"h":10,"s":1},{"d":162,"l":8,"h":17,"s":1},{"d":164,"l":3,"h":7,"s":1},{"d":166,"l":2,"h":4,"s":1},{"d":168,"l":4,"h":9,"s":1},{"d":170,"l":2,"h":5,"s":1},{"d":172,"l":4,"h":8,"s":1},{"d":174,"l":1,"h":3,"s":1},{"d":176,"l":3,"h":6,"s":1},{"d":178,"l":2,"h":4,"s":1},
{"d":230,"l":1,"h":3,"s":2},{"d":232,"l":3,"h":7,"s":2},{"d":234,"l":1,"h":2,"s":2},{"d":236,"l":4,"h":9,"s":2},{"d":238,"l":2,"h":5,"s":2},{"d":240,"l":4,"h":8,"s":2},{"d":242,"l":1,"h":3,"s":2},{"d":244,"l":5,"h":10,"s":2},{"d":246,"l":2,"h":5,"s":2},{"d":248,"l":1,"h":2,"s":2},{"d":250,"l":4,"h":8,"s":2},{"d":252,"l":2,"h":4,"s":2},{"d":254,"l":5,"h":11,"s":2},{"d":256,"l":3,"h":6,"s":2},{"d":258,"l":4,"h":9,"s":2},{"d":260,"l":2,"h":4,"s":2},{"d":262,"l":4,"h":8,"s":2},{"d":264,"l":1,"h":3,"s":2},{"d":266,"l":5,"h":10,"s":2},{"d":268,"l":2,"h":5,"s":2},{"d":270,"l":4,"h":8,"s":2},{"d":272,"l":1,"h":3,"s":2},{"d":274,"l":3,"h":7,"s":2},{"d":276,"l":5,"h":11,"s":2},{"d":278,"l":2,"h":5,"s":2},{"d":280,"l":4,"h":9,"s":2},{"d":282,"l":2,"h":4,"s":2},{"d":284,"l":6,"h":12,"s":2},{"d":286,"l":3,"h":7,"s":2},{"d":288,"l":1,"h":3,"s":2},{"d":290,"l":5,"h":10,"s":2},{"d":292,"l":3,"h":6,"s":2},{"d":294,"l":6,"h":12,"s":2},{"d":296,"l":7,"h":13,"s":2},{"d":298,"l":4,"h":8,"s":2},{"d":300,"l":2,"h":5,"s":2},{"d":302,"l":5,"h":11,"s":2},{"d":304,"l":3,"h":7,"s":2},{"d":306,"l":1,"h":3,"s":2},{"d":308,"l":4,"h":9,"s":2},{"d":310,"l":2,"h":5,"s":2},{"d":312,"l":5,"h":11,"s":2},{"d":314,"l":3,"h":6,"s":2},{"d":316,"l":5,"h":10,"s":2},{"d":318,"l":2,"h":4,"s":2},{"d":320,"l":4,"h":8,"s":2},{"d":322,"l":5,"h":11,"s":2},{"d":324,"l":3,"h":6,"s":2},{"d":326,"l":4,"h":9,"s":2},{"d":328,"l":2,"h":4,"s":2},{"d":330,"l":3,"h":7,"s":2},{"d":332,"l":5,"h":10,"s":2},{"d":334,"l":2,"h":5,"s":2},{"d":336,"l":1,"h":3,"s":2},{"d":338,"l":4,"h":8,"s":2},{"d":340,"l":6,"h":12,"s":2},{"d":342,"l":7,"h":13,"s":2},{"d":344,"l":3,"h":7,"s":2},{"d":346,"l":5,"h":10,"s":2},{"d":348,"l":2,"h":5,"s":2},{"d":350,"l":4,"h":8,"s":2},{"d":352,"l":1,"h":3,"s":2},{"d":354,"l":3,"h":6,"s":2},{"d":356,"l":4,"h":9,"s":2},{"d":358,"l":2,"h":5,"s":2}],
"a2007":[{"d":91,"l":0,"h":1,"s":1},{"d":93,"l":1,"h":3,"s":1},{"d":95,"l":4,"h":9,"s":1},{"d":97,"l":6,"h":12,"s":1},{"d":99,"l":3,"h":7,"s":1},{"d":101,"l":5,"h":10,"s":1},{"d":103,"l":2,"h":5,"s":1},{"d":105,"l":7,"h":14,"s":1},{"d":107,"l":4,"h":8,"s":1},{"d":109,"l":2,"h":4,"s":1},{"d":111,"l":4,"h":9,"s":1},{"d":113,"l":2,"h":5,"s":1},{"d":115,"l":1,"h":3,"s":1},{"d":117,"l":3,"h":7,"s":1},{"d":119,"l":2,"h":4,"s":1},{"d":121,"l":4,"h":9,"s":1},{"d":123,"l":2,"h":5,"s":1},{"d":125,"l":5,"h":10,"s":1},{"d":127,"l":7,"h":14,"s":1},{"d":129,"l":4,"h":8,"s":1},{"d":131,"l":2,"h":5,"s":1},{"d":133,"l":5,"h":11,"s":1},{"d":135,"l":3,"h":6,"s":1},{"d":137,"l":5,"h":10,"s":1},{"d":139,"l":2,"h":4,"s":1},{"d":141,"l":5,"h":11,"s":1},{"d":143,"l":3,"h":7,"s":1},{"d":145,"l":6,"h":12,"s":1},{"d":147,"l":3,"h":6,"s":1},{"d":149,"l":4,"h":9,"s":1},{"d":151,"l":7,"h":16,"s":1},{"d":153,"l":4,"h":8,"s":1},{"d":155,"l":2,"h":5,"s":1},{"d":157,"l":4,"h":9,"s":1},{"d":159,"l":2,"h":4,"s":1},{"d":161,"l":4,"h":8,"s":1},{"d":163,"l":1,"h":3,"s":1},{"d":165,"l":3,"h":7,"s":1},{"d":167,"l":2,"h":4,"s":1},{"d":169,"l":4,"h":9,"s":1},{"d":171,"l":2,"h":5,"s":1},{"d":173,"l":1,"h":3,"s":1},{"d":175,"l":3,"h":6,"s":1},{"d":177,"l":2,"h":3,"s":1},{"d":179,"l":2,"h":5,"s":1},{"d":181,"l":1,"h":2,"s":1},{"d":183,"l":2,"h":4,"s":1},{"d":185,"l":3,"h":6,"s":1},{"d":187,"l":2,"h":3,"s":1},{"d":189,"l":2,"h":5,"s":1},{"d":191,"l":1,"h":2,"s":1},{"d":193,"l":2,"h":4,"s":1},{"d":195,"l":3,"h":6,"s":1},{"d":197,"l":2,"h":3,"s":1},{"d":199,"l":2,"h":4,"s":1},{"d":201,"l":1,"h":2,"s":1},{"d":203,"l":2,"h":5,"s":1},{"d":205,"l":3,"h":7,"s":1},{"d":206,"l":1,"h":3,"s":1},
{"d":250,"l":8,"h":11,"s":2},{"d":251,"l":6,"h":8,"s":2},
{"d":256,"l":1,"h":2,"s":3},{"d":258,"l":3,"h":6,"s":3},{"d":260,"l":5,"h":10,"s":3},{"d":262,"l":6,"h":13,"s":3},{"d":264,"l":3,"h":7,"s":3},{"d":266,"l":2,"h":4,"s":3},{"d":268,"l":4,"h":9,"s":3},{"d":270,"l":2,"h":5,"s":3},{"d":272,"l":5,"h":11,"s":3},{"d":274,"l":6,"h":13,"s":3},{"d":276,"l":3,"h":6,"s":3},{"d":278,"l":4,"h":9,"s":3},{"d":280,"l":1,"h":3,"s":3},{"d":282,"l":4,"h":8,"s":3},{"d":284,"l":6,"h":12,"s":3},{"d":286,"l":2,"h":5,"s":3},{"d":288,"l":4,"h":9,"s":3},{"d":290,"l":2,"h":4,"s":3},{"d":292,"l":3,"h":7,"s":3},{"d":294,"l":5,"h":10,"s":3},{"d":295,"l":4,"h":8,"s":3},
{"d":347,"l":2,"h":4,"s":4},{"d":349,"l":4,"h":8,"s":4},{"d":351,"l":6,"h":13,"s":4},{"d":353,"l":3,"h":7,"s":4},{"d":355,"l":5,"h":10,"s":4},{"d":357,"l":2,"h":5,"s":4},{"d":359,"l":4,"h":9,"s":4},{"d":361,"l":2,"h":4,"s":4},{"d":363,"l":4,"h":8,"s":4},{"d":365,"l":3,"h":6,"s":4}]
},
"vconcat":[
{"title":"1999","width":510,"height":54,"resolve":{"axis":{"x":"independent","y":"independent"}},"layer":[
 {"data":{"values":[{"r":3.6},{"r":16.2}]},"mark":{"type":"rule","color":"#cc4444","strokeWidth":1.2},"encoding":{"x":{"datum":0,"type":"quantitative","scale":{"domain":[0,365],"nice":false,"zero":false},"axis":{"orient":"top","values":[0,30.417,60.833,91.25,121.667,152.083,182.5,212.917,243.333,273.75,304.167,334.583],"labels":false,"title":null}},"x2":{"datum":365},"y":{"field":"r","type":"quantitative","scale":{"domain":[0,20],"nice":false},"axis":{"orient":"right","values":[0,10,20],"labels":false,"title":null}}}},
 {"data":{"name":"a1999"},"mark":{"type":"area","color":"#1010f0","stroke":"#1010f0","strokeWidth":0.6},"encoding":{"x":{"field":"d","type":"quantitative","axis":{"orient":"bottom","values":[0,30.417,60.833,91.25,121.667,152.083,182.5,212.917,243.333,273.75,304.167,334.583],"labelExpr":"['J','F','M','A','M','J','J','A','S','O','N','D'][round(datum.value*12/365)]","labelFlush":false,"labelFontSize":11,"labelPadding":12,"title":null}},"y":{"field":"l","type":"quantitative","axis":{"orient":"left","values":[0,10,20],"labelFontSize":10,"labelPadding":8,"title":"m/s","titleFontSize":10,"titlePadding":4}},"y2":{"field":"h"},"detail":{"field":"s"}}}]},
{"title":"2000","width":510,"height":54,"resolve":{"axis":{"x":"independent","y":"independent"}},"layer":[
 {"data":{"values":[{"r":3.6},{"r":16.2}]},"mark":{"type":"rule","color":"#cc4444","strokeWidth":1.2},"encoding":{"x":{"datum":0,"type":"quantitative","scale":{"domain":[0,365],"nice":false,"zero":false},"axis":{"orient":"top","values":[0,30.417,60.833,91.25,121.667,152.083,182.5,212.917,243.333,273.75,304.167,334.583],"labels":false,"title":null}},"x2":{"datum":365},"y":{"field":"r","type":"quantitative","scale":{"domain":[0,20],"nice":false},"axis":{"orient":"right","values":[0,10,20],"labels":false,"title":null}}}},
 {"data":{"name":"a2000"},"mark":{"type":"area","color":"#1010f0","stroke":"#1010f0","strokeWidth":0.6},"encoding":{"x":{"field":"d","type":"quantitative","axis":{"orient":"bottom","values":[0,30.417,60.833,91.25,121.667,152.083,182.5,212.917,243.333,273.75,304.167,334.583],"labelExpr":"['J','F','M','A','M','J','J','A','S','O','N','D'][round(datum.value*12/365)]","labelFlush":false,"labelFontSize":11,"labelPadding":12,"title":null}},"y":{"field":"l","type":"quantitative","axis":{"orient":"left","values":[0,10,20],"labelFontSize":10,"labelPadding":8,"title":"m/s","titleFontSize":10,"titlePadding":4}},"y2":{"field":"h"},"detail":{"field":"s"}}}]},
{"title":"2001","width":510,"height":54,"resolve":{"axis":{"x":"independent","y":"independent"}},"layer":[
 {"data":{"values":[{"r":3.6},{"r":16.2}]},"mark":{"type":"rule","color":"#cc4444","strokeWidth":1.2},"encoding":{"x":{"datum":0,"type":"quantitative","scale":{"domain":[0,365],"nice":false,"zero":false},"axis":{"orient":"top","values":[0,30.417,60.833,91.25,121.667,152.083,182.5,212.917,243.333,273.75,304.167,334.583],"labels":false,"title":null}},"x2":{"datum":365},"y":{"field":"r","type":"quantitative","scale":{"domain":[0,20],"nice":false},"axis":{"orient":"right","values":[0,10,20],"labels":false,"title":null}}}},
 {"data":{"name":"a2001"},"mark":{"type":"area","color":"#1010f0","stroke":"#1010f0","strokeWidth":0.6},"encoding":{"x":{"field":"d","type":"quantitative","axis":{"orient":"bottom","values":[0,30.417,60.833,91.25,121.667,152.083,182.5,212.917,243.333,273.75,304.167,334.583],"labelExpr":"['J','F','M','A','M','J','J','A','S','O','N','D'][round(datum.value*12/365)]","labelFlush":false,"labelFontSize":11,"labelPadding":12,"title":null}},"y":{"field":"l","type":"quantitative","axis":{"orient":"left","values":[0,10,20],"labelFontSize":10,"labelPadding":8,"title":"m/s","titleFontSize":10,"titlePadding":4}},"y2":{"field":"h"},"detail":{"field":"s"}}}]},
{"title":"2002","width":510,"height":54,"resolve":{"axis":{"x":"independent","y":"independent"}},"layer":[
 {"data":{"values":[{"r":3.6},{"r":16.2}]},"mark":{"type":"rule","color":"#cc4444","strokeWidth":1.2},"encoding":{"x":{"datum":0,"type":"quantitative","scale":{"domain":[0,365],"nice":false,"zero":false},"axis":{"orient":"top","values":[0,30.417,60.833,91.25,121.667,152.083,182.5,212.917,243.333,273.75,304.167,334.583],"labels":false,"title":null}},"x2":{"datum":365},"y":{"field":"r","type":"quantitative","scale":{"domain":[0,20],"nice":false},"axis":{"orient":"right","values":[0,10,20],"labels":false,"title":null}}}},
 {"data":{"name":"a2002"},"mark":{"type":"area","color":"#1010f0","stroke":"#1010f0","strokeWidth":0.6},"encoding":{"x":{"field":"d","type":"quantitative","axis":{"orient":"bottom","values":[0,30.417,60.833,91.25,121.667,152.083,182.5,212.917,243.333,273.75,304.167,334.583],"labelExpr":"['J','F','M','A','M','J','J','A','S','O','N','D'][round(datum.value*12/365)]","labelFlush":false,"labelFontSize":11,"labelPadding":12,"title":null}},"y":{"field":"l","type":"quantitative","axis":{"orient":"left","values":[0,10,20],"labelFontSize":10,"labelPadding":8,"title":"m/s","titleFontSize":10,"titlePadding":4}},"y2":{"field":"h"},"detail":{"field":"s"}}}]},
{"title":"2003","width":510,"height":54,"resolve":{"axis":{"x":"independent","y":"independent"}},"layer":[
 {"data":{"values":[{"r":3.6},{"r":16.2}]},"mark":{"type":"rule","color":"#cc4444","strokeWidth":1.2},"encoding":{"x":{"datum":0,"type":"quantitative","scale":{"domain":[0,365],"nice":false,"zero":false},"axis":{"orient":"top","values":[0,30.417,60.833,91.25,121.667,152.083,182.5,212.917,243.333,273.75,304.167,334.583],"labels":false,"title":null}},"x2":{"datum":365},"y":{"field":"r","type":"quantitative","scale":{"domain":[0,20],"nice":false},"axis":{"orient":"right","values":[0,10,20],"labels":false,"title":null}}}},
 {"data":{"name":"a2003"},"mark":{"type":"area","color":"#1010f0","stroke":"#1010f0","strokeWidth":0.6},"encoding":{"x":{"field":"d","type":"quantitative","axis":{"orient":"bottom","values":[0,30.417,60.833,91.25,121.667,152.083,182.5,212.917,243.333,273.75,304.167,334.583],"labelExpr":"['J','F','M','A','M','J','J','A','S','O','N','D'][round(datum.value*12/365)]","labelFlush":false,"labelFontSize":11,"labelPadding":12,"title":null}},"y":{"field":"l","type":"quantitative","axis":{"orient":"left","values":[0,10,20],"labelFontSize":10,"labelPadding":8,"title":"m/s","titleFontSize":10,"titlePadding":4}},"y2":{"field":"h"},"detail":{"field":"s"}}}]},
{"title":"2004","width":510,"height":54,"resolve":{"axis":{"x":"independent","y":"independent"}},"layer":[
 {"data":{"values":[{"r":3.6},{"r":16.2}]},"mark":{"type":"rule","color":"#cc4444","strokeWidth":1.2},"encoding":{"x":{"datum":0,"type":"quantitative","scale":{"domain":[0,365],"nice":false,"zero":false},"axis":{"orient":"top","values":[0,30.417,60.833,91.25,121.667,152.083,182.5,212.917,243.333,273.75,304.167,334.583],"labels":false,"title":null}},"x2":{"datum":365},"y":{"field":"r","type":"quantitative","scale":{"domain":[0,20],"nice":false},"axis":{"orient":"right","values":[0,10,20],"labels":false,"title":null}}}},
 {"data":{"name":"a2004"},"mark":{"type":"area","color":"#1010f0","stroke":"#1010f0","strokeWidth":0.6},"encoding":{"x":{"field":"d","type":"quantitative","axis":{"orient":"bottom","values":[0,30.417,60.833,91.25,121.667,152.083,182.5,212.917,243.333,273.75,304.167,334.583],"labelExpr":"['J','F','M','A','M','J','J','A','S','O','N','D'][round(datum.value*12/365)]","labelFlush":false,"labelFontSize":11,"labelPadding":12,"title":null}},"y":{"field":"l","type":"quantitative","axis":{"orient":"left","values":[0,10,20],"labelFontSize":10,"labelPadding":8,"title":"m/s","titleFontSize":10,"titlePadding":4}},"y2":{"field":"h"},"detail":{"field":"s"}}}]},
{"title":"2005","width":510,"height":54,"resolve":{"axis":{"x":"independent","y":"independent"}},"layer":[
 {"data":{"values":[{"r":3.6},{"r":16.2}]},"mark":{"type":"rule","color":"#cc4444","strokeWidth":1.2},"encoding":{"x":{"datum":0,"type":"quantitative","scale":{"domain":[0,365],"nice":false,"zero":false},"axis":{"orient":"top","values":[0,30.417,60.833,91.25,121.667,152.083,182.5,212.917,243.333,273.75,304.167,334.583],"labels":false,"title":null}},"x2":{"datum":365},"y":{"field":"r","type":"quantitative","scale":{"domain":[0,20],"nice":false},"axis":{"orient":"right","values":[0,10,20],"labels":false,"title":null}}}},
 {"data":{"name":"a2005"},"mark":{"type":"area","color":"#1010f0","stroke":"#1010f0","strokeWidth":0.6},"encoding":{"x":{"field":"d","type":"quantitative","axis":{"orient":"bottom","values":[0,30.417,60.833,91.25,121.667,152.083,182.5,212.917,243.333,273.75,304.167,334.583],"labelExpr":"['J','F','M','A','M','J','J','A','S','O','N','D'][round(datum.value*12/365)]","labelFlush":false,"labelFontSize":11,"labelPadding":12,"title":null}},"y":{"field":"l","type":"quantitative","axis":{"orient":"left","values":[0,10,20],"labelFontSize":10,"labelPadding":8,"title":"m/s","titleFontSize":10,"titlePadding":4}},"y2":{"field":"h"},"detail":{"field":"s"}}}]},
{"title":"2006","width":510,"height":54,"resolve":{"axis":{"x":"independent","y":"independent"}},"layer":[
 {"data":{"values":[{"r":3.6},{"r":16.2}]},"mark":{"type":"rule","color":"#cc4444","strokeWidth":1.2},"encoding":{"x":{"datum":0,"type":"quantitative","scale":{"domain":[0,365],"nice":false,"zero":false},"axis":{"orient":"top","values":[0,30.417,60.833,91.25,121.667,152.083,182.5,212.917,243.333,273.75,304.167,334.583],"labels":false,"title":null}},"x2":{"datum":365},"y":{"field":"r","type":"quantitative","scale":{"domain":[0,20],"nice":false},"axis":{"orient":"right","values":[0,10,20],"labels":false,"title":null}}}},
 {"data":{"name":"a2006"},"mark":{"type":"area","color":"#1010f0","stroke":"#1010f0","strokeWidth":0.6},"encoding":{"x":{"field":"d","type":"quantitative","axis":{"orient":"bottom","values":[0,30.417,60.833,91.25,121.667,152.083,182.5,212.917,243.333,273.75,304.167,334.583],"labelExpr":"['J','F','M','A','M','J','J','A','S','O','N','D'][round(datum.value*12/365)]","labelFlush":false,"labelFontSize":11,"labelPadding":12,"title":null}},"y":{"field":"l","type":"quantitative","axis":{"orient":"left","values":[0,10,20],"labelFontSize":10,"labelPadding":8,"title":"m/s","titleFontSize":10,"titlePadding":4}},"y2":{"field":"h"},"detail":{"field":"s"}}}]},
{"title":"2007","width":510,"height":54,"resolve":{"axis":{"x":"independent","y":"independent"}},"layer":[
 {"data":{"values":[{"r":3.6},{"r":16.2}]},"mark":{"type":"rule","color":"#cc4444","strokeWidth":1.2},"encoding":{"x":{"datum":0,"type":"quantitative","scale":{"domain":[0,365],"nice":false,"zero":false},"axis":{"orient":"top","values":[0,30.417,60.833,91.25,121.667,152.083,182.5,212.917,243.333,273.75,304.167,334.583],"labels":false,"title":null}},"x2":{"datum":365},"y":{"field":"r","type":"quantitative","scale":{"domain":[0,20],"nice":false},"axis":{"orient":"right","values":[0,10,20],"labels":false,"title":null}}}},
 {"data":{"name":"a2007"},"mark":{"type":"area","color":"#1010f0","stroke":"#1010f0","strokeWidth":0.6},"encoding":{"x":{"field":"d","type":"quantitative","axis":{"orient":"bottom","values":[0,30.417,60.833,91.25,121.667,152.083,182.5,212.917,243.333,273.75,304.167,334.583],"labelExpr":"['J','F','M','A','M','J','J','A','S','O','N','D'][round(datum.value*12/365)]","labelFlush":false,"labelFontSize":11,"labelPadding":12,"title":null}},"y":{"field":"l","type":"quantitative","axis":{"orient":"left","values":[0,10,20],"labelFontSize":10,"labelPadding":8,"title":"m/s","titleFontSize":10,"titlePadding":4}},"y2":{"field":"h"},"detail":{"field":"s"}}}]}
]
}
